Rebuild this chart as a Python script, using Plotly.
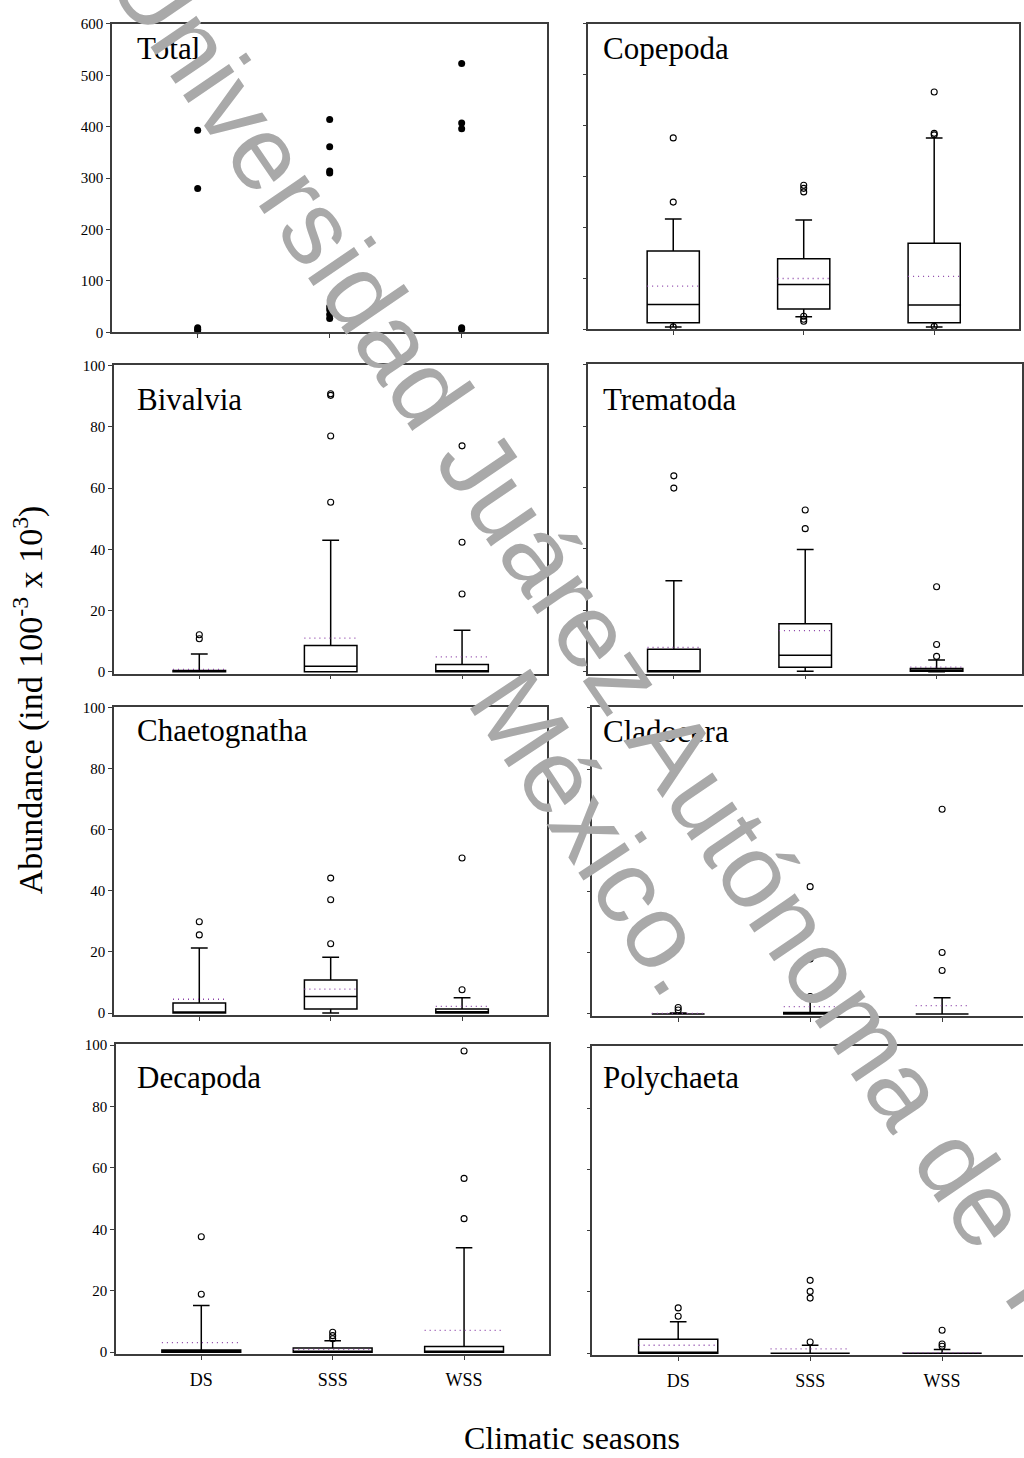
import plotly.graph_objects as go

# ---- data -------------------------------------------------------------
seasons = ["DS", "SSS", "WSS"]
season_pos = [0, 1, 2]

# Total abundance: individual extreme values per season
total_ds = [393, 280, 9, 6, 3]
total_sss = [414, 361, 314, 310, 50, 44, 35, 27]
total_wss = [523, 407, 396, 9, 6]

# Box statistics per taxon (DS, SSS, WSS)
copepoda = dict(
    lower=[5, 25, 5], q1=[13, 40, 13], median=[49, 88, 48],
    q3=[154, 139, 169], upper=[217, 215, 376], mean=[85, 100, 104],
    outliers=[[376, 250, 5], [283, 277, 270, 26, 20, 16], [466, 385, 382, 6]],
)
bivalvia = dict(
    lower=[0, 0, 0], q1=[0, 0, 0], median=[0.1, 1.8, 0.2],
    q3=[0.4, 8.6, 2.4], upper=[5.8, 43.0, 13.6], mean=[0.8, 11.0, 4.9],
    outliers=[[12.1, 10.8], [90.8, 90.3, 77.0, 55.4], [73.8, 42.3, 25.4]],
)
trematoda = dict(
    lower=[0, 0.2, 0], q1=[0, 1.5, 0.2], median=[0.2, 5.4, 0.5],
    q3=[7.3, 15.6, 1.1], upper=[29.6, 39.8, 3.8], mean=[7.9, 13.4, 1.5],
    outliers=[[63.8, 59.8], [52.7, 46.6], [27.7, 8.9, 5.0]],
)
chaetognatha = dict(
    lower=[0, 0, 0], q1=[0, 1.3, 0], median=[0.2, 5.4, 0.4],
    q3=[3.3, 10.8, 1.3], upper=[21.3, 18.3, 5.0], mean=[4.5, 7.8, 2.2],
    outliers=[[29.9, 25.6], [44.2, 37.1, 22.7], [50.8, 7.6]],
)
cladocera = dict(
    lower=[0, 0, 0], q1=[0, 0, 0], median=[0, 0.1, 0],
    q3=[0, 0.5, 0], upper=[0.3, 5.0, 5.3], mean=[0.2, 2.4, 2.7],
    outliers=[[2.1, 1.3], [41.6, 29.1, 18.0, 5.7], [66.9, 20.1, 14.2]],
)
decapoda = dict(
    lower=[0, 0, 0], q1=[0, 0, 0], median=[0.3, 0.3, 0.1],
    q3=[0.75, 1.4, 1.9], upper=[15.2, 3.7, 34.0], mean=[3.1, 0.9, 7.1],
    outliers=[[37.6, 18.9], [6.5, 5.4, 4.4], [98.1, 56.6, 43.5]],
)
polychaeta = dict(
    lower=[0, 0, 0], q1=[0, 0, 0], median=[0.3, 0, 0],
    q3=[4.6, 0, 0], upper=[10.3, 2.6, 1.2], mean=[2.6, 1.4, 0.2],
    outliers=[[14.8, 12.1], [23.8, 20.2, 18.0, 3.65], [7.5, 3.0, 2.3]],
)

# ---- layout geometry (pixels) -----------------------------------------
W, H = 1024, 1458
SERIF = "Liberation Serif, Times New Roman, serif"
MEAN_COLOR = "#8a3fa6"
AXIS_COLOR = "#3c3c3c"

panels = [
    # name, stats, x px, y px, x range, y range, y ticks, left labels, right border, box width, cap ratio
    ("Total", None, (112, 548), (16, 328), (-0.65, 2.65), (0, 600), list(range(0, 601, 100)), True, True, 0.4, 0.32),
    ("Copepoda", copepoda, (589, 1020), (16, 325), (-0.65, 2.65), (0, 600), list(range(0, 601, 100)), False, True, 0.4, 0.32),
    ("Bivalvia", bivalvia, (114, 548), (361, 673), (-0.65, 2.65), (-0.6, 100.2), list(range(0, 101, 20)), True, True, 0.4, 0.32),
    ("Trematoda", trematoda, (589, 1023), (360, 673), (-0.65, 2.65), (-0.6, 100.2), list(range(0, 101, 20)), False, True, 0.4, 0.32),
    ("Chaetognatha", chaetognatha, (114, 548), (707, 1018), (-0.65, 2.65), (-0.6, 100.2), list(range(0, 101, 20)), True, True, 0.4, 0.32),
    ("Cladocera", cladocera, (593, 1024), (707, 1019), (-0.65, 2.613), (-0.6, 100.2), list(range(0, 101, 20)), False, False, 0.4, 0.32),
    ("Decapoda", decapoda, (116, 550), (1048, 1361), (-0.65, 2.65), (-0.6, 100.2), list(range(0, 101, 20)), True, True, 0.6, 0.21),
    ("Polychaeta", polychaeta, (593, 1024), (1050, 1362), (-0.65, 2.613), (-0.6, 100.2), list(range(0, 101, 20)), False, False, 0.6, 0.21),
]
title_baselines = [52, 52, 407, 407, 742, 743, 1092, 1092]


def fx(px):
    return px / W


def fy(py):
    return 1 - py / H


fig = go.Figure()
layout = dict(
    width=W, height=H, margin=dict(l=0, r=0, t=0, b=0),
    paper_bgcolor="white", plot_bgcolor="white",
    showlegend=False, font=dict(family=SERIF, color="black"),
)
annotations = []

for i, (name, st, xpx, ypx, xr, yr, yt, left, rborder, bw, ww) in enumerate(panels):
    n = i + 1
    xa, ya = f"x{n}", f"y{n}"
    bottom_row = i >= 6
    layout[f"xaxis{n}"] = dict(
        domain=[fx(xpx[0]), fx(xpx[1])], range=list(xr), anchor=ya,
        tickmode="array", tickvals=season_pos, ticktext=seasons,
        showticklabels=bottom_row, tickfont=dict(size=18, family=SERIF),
        ticklabelstandoff=5,
        ticks="outside", ticklen=4, tickwidth=1, tickcolor=AXIS_COLOR,
        showline=True, linecolor=AXIS_COLOR, linewidth=1.5, mirror=True,
        showgrid=False, zeroline=False, fixedrange=True,
    )
    layout[f"yaxis{n}"] = dict(
        domain=[fy(ypx[1]), fy(ypx[0])], range=list(yr), anchor=xa,
        tickmode="array", tickvals=yt, showticklabels=left,
        tickfont=dict(size=15, family=SERIF),
        ticks="outside", ticklen=4, tickwidth=1, tickcolor=AXIS_COLOR,
        showline=True, linecolor=AXIS_COLOR, linewidth=1.5, mirror=rborder,
        showgrid=False, zeroline=False, fixedrange=True,
    )

    if st is None:
        # Total: individual values as filled dots
        for p, vals in zip(season_pos, [total_ds, total_sss, total_wss]):
            fig.add_trace(go.Scatter(
                x=[p] * len(vals), y=vals, mode="markers", xaxis=xa, yaxis=ya,
                marker=dict(symbol="circle", size=7, color="black"),
                cliponaxis=False, hoverinfo="skip",
            ))
    else:
        fig.add_trace(go.Box(
            x=season_pos, q1=st["q1"], median=st["median"], q3=st["q3"],
            lowerfence=st["lower"], upperfence=st["upper"],
            width=bw, whiskerwidth=ww, boxpoints=False,
            line=dict(color="black", width=1.5), fillcolor="white",
            xaxis=xa, yaxis=ya, hoverinfo="skip",
        ))
        # mean as dotted line across the box
        mx, my = [], []
        for p, m in zip(season_pos, st["mean"]):
            mx += [p - bw / 2, p + bw / 2, None]
            my += [m, m, None]
        fig.add_trace(go.Scatter(
            x=mx, y=my, mode="lines", xaxis=xa, yaxis=ya,
            line=dict(color=MEAN_COLOR, width=1.3, dash="1px,4px"),
            hoverinfo="skip",
        ))
        # outliers
        ox, oy = [], []
        for p, vals in zip(season_pos, st["outliers"]):
            ox += [p] * len(vals)
            oy += vals
        fig.add_trace(go.Scatter(
            x=ox, y=oy, mode="markers", xaxis=xa, yaxis=ya,
            marker=dict(symbol="circle-open", size=6, color="black",
                        line=dict(width=1.1, color="black")),
            cliponaxis=False, hoverinfo="skip",
        ))

    # panel title
    tx = 135 if xpx[0] < 300 else 602
    annotations.append(dict(
        text=name, xref="paper", yref="paper",
        x=fx(tx), y=fy(title_baselines[i] - 11),
        xanchor="left", yanchor="middle", showarrow=False,
        font=dict(size=31, family=SERIF, color="black"),
    ))

# axis titles
annotations.append(dict(
    text="Climatic seasons", xref="paper", yref="paper",
    x=fx(573), y=fy(1446), xanchor="center", yanchor="middle",
    showarrow=False, font=dict(size=32, family=SERIF, color="black"),
))
annotations.append(dict(
    text="Abundance (ind 100<sup>-3</sup> x 10<sup>3</sup>)",
    xref="paper", yref="paper", x=fx(28), y=fy(699),
    xanchor="center", yanchor="middle", textangle=-90,
    showarrow=False, font=dict(size=34, family=SERIF, color="black"),
))

# repository watermark (two lines, same slant)
WM = dict(family="Liberation Sans, Arial, sans-serif", size=105, color="#a9a9a9")
annotations.append(dict(
    text="Universidad Juárez Autónoma de Tabasco", xref="paper", yref="paper",
    x=fx(688), y=fy(770), xanchor="center", yanchor="middle",
    textangle=55.7, showarrow=False, font=WM,
))
annotations.append(dict(
    text="México.", xref="paper", yref="paper",
    x=fx(596), y=fy(834), xanchor="center", yanchor="middle",
    textangle=56.5, showarrow=False, font=WM,
))

layout["annotations"] = annotations
fig.update_layout(**layout)
fig.write_html("out.html")
